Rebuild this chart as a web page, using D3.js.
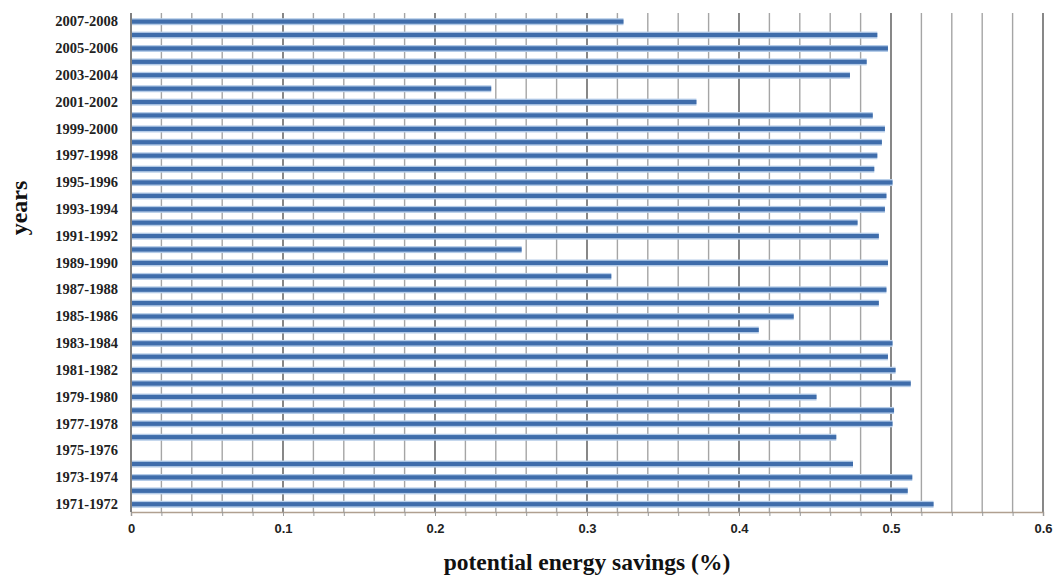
<!DOCTYPE html>
<html>
<head>
<meta charset="utf-8">
<script src="https://cdn.jsdelivr.net/npm/d3@7"></script>
<style>
  html, body { margin: 0; padding: 0; background: #ffffff; }
  svg { display: block; }
</style>
</head>
<body>
<svg id="chart" width="1053" height="575"></svg>
<script>
// Categories, bottom (first) to top (last)
const years = [
  "1971-1972","1972-1973","1973-1974","1974-1975","1975-1976","1976-1977",
  "1977-1978","1978-1979","1979-1980","1980-1981","1981-1982","1982-1983",
  "1983-1984","1984-1985","1985-1986","1986-1987","1987-1988","1988-1989",
  "1989-1990","1990-1991","1991-1992","1992-1993","1993-1994","1994-1995",
  "1995-1996","1996-1997","1997-1998","1998-1999","1999-2000","2000-2001",
  "2001-2002","2002-2003","2003-2004","2004-2005","2005-2006","2006-2007",
  "2007-2008"
];
// potential energy savings values (null = no bar)
const savings = [
  0.528, 0.511, 0.514, 0.475, null, 0.464,
  0.501, 0.502, 0.451, 0.513, 0.503, 0.498,
  0.501, 0.413, 0.436, 0.492, 0.497, 0.316,
  0.498, 0.257, 0.492, 0.478, 0.496, 0.497,
  0.501, 0.489, 0.491, 0.494, 0.496, 0.488,
  0.372, 0.237, 0.473, 0.484, 0.498, 0.491,
  0.324
];
const xTicks = [0, 0.1, 0.2, 0.3, 0.4, 0.5, 0.6];
const xTickLabels = ["0", "0.1", "0.2", "0.3", "0.4", "0.5", "0.6"];
const gridStep = 0.02;
const xTitle = "potential energy savings (%)";
const yTitle = "years";

(function () {
const data = years.map((y, i) => ({ year: y, value: savings[i] }));

const svg = d3.select("#chart");
const pLeft = 131, pRight = 1043, pTop = 13, pBottom = 512;

const x = d3.scaleLinear().domain([0, 0.6]).range([pLeft, pRight]);
const y = d3.scaleBand().domain(years).range([pBottom - 1, pTop + 2]).padding(0);

const isMajor = d => Math.abs(d * 10 - Math.round(d * 10)) < 1e-6;

// vertical gridlines every 0.02
const gridVals = d3.range(0, 0.6 + 1e-9, gridStep).map(v => +v.toFixed(2));
svg.append("g").selectAll("line")
  .data(gridVals.filter(v => v > 0))
  .join("line")
  .attr("x1", d => x(d)).attr("x2", d => x(d))
  .attr("y1", pTop).attr("y2", pBottom)
  .attr("stroke", d => isMajor(d) ? "#737373" : "#a5a5a5")
  .attr("stroke-width", d => isMajor(d) ? 1.7 : 1.4);

// bars
const barData = data.filter(d => d.value != null);
const bars = svg.append("g");
bars.selectAll("rect.halo")
  .data(barData)
  .join("rect")
  .attr("class", "halo")
  .attr("x", x(0))
  .attr("y", d => y(d.year) + y.bandwidth() / 2 - 3.5)
  .attr("width", d => x(d.value) - x(0))
  .attr("height", 7)
  .attr("fill", "#b5cce8");
bars.selectAll("rect.core")
  .data(barData)
  .join("rect")
  .attr("class", "core")
  .attr("x", x(0))
  .attr("y", d => y(d.year) + y.bandwidth() / 2 - 2.2)
  .attr("width", d => x(d.value) - x(0))
  .attr("height", 4.2)
  .attr("fill", "#3f6dab");

// bottom axis
const xAxis = d3.axisBottom(x)
  .tickValues(gridVals)
  .tickSize(4)
  .tickFormat(d => {
    const i = xTicks.findIndex(t => Math.abs(t - d) < 1e-9);
    return i >= 0 ? xTickLabels[i] : "";
  });
const gx = svg.append("g").attr("transform", `translate(0,${pBottom})`).call(xAxis);
gx.select(".domain").attr("stroke", "#b0a090").attr("stroke-width", 1.5);
gx.selectAll(".tick line").attr("stroke", "#999");
gx.selectAll(".tick text")
  .attr("dy", "1.05em")
  .attr("font-family", "'Liberation Sans Narrow', 'Liberation Sans', Arial, sans-serif")
  .attr("font-weight", "bold")
  .attr("font-size", 13)
  .attr("fill", "#222");

// left axis
const yAxis = d3.axisLeft(y)
  .tickValues(years.filter((d, i) => i % 2 === 0))
  .tickSize(0)
  .tickPadding(13);
const gy = svg.append("g").attr("transform", `translate(${pLeft},0)`).call(yAxis);
gy.select(".domain").attr("stroke", "#808080").attr("stroke-width", 2)
  .attr("d", `M0,${pTop}V${pBottom}`);
gy.selectAll(".tick text")
  .attr("font-family", "'Liberation Serif', 'Times New Roman', serif")
  .attr("font-weight", "bold")
  .attr("font-size", 14.5)
  .attr("fill", "#222");

// titles
svg.append("text")
  .attr("x", (pLeft + pRight) / 2)
  .attr("y", 570)
  .attr("text-anchor", "middle")
  .attr("font-family", "'Liberation Serif', 'Times New Roman', serif")
  .attr("font-weight", "bold")
  .attr("font-size", 23.5)
  .attr("fill", "#111")
  .text(xTitle);

svg.append("text")
  .attr("transform", "translate(27,208) rotate(-90)")
  .attr("text-anchor", "middle")
  .attr("font-family", "'Liberation Serif', 'Times New Roman', serif")
  .attr("font-weight", "bold")
  .attr("font-size", 24)
  .attr("fill", "#111")
  .text(yTitle);
})();
</script>
</body>
</html>
